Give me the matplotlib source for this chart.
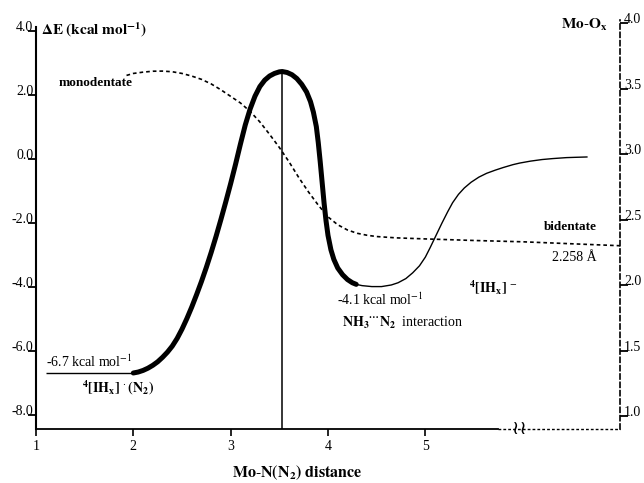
import matplotlib
matplotlib.use("Agg")
import matplotlib.pyplot as plt
import numpy as np

plt.rcParams["font.family"] = ["Liberation Serif", "DejaVu Serif"]
plt.rcParams["mathtext.fontset"] = "stix"
plt.rcParams["axes.unicode_minus"] = False

# energy curve (kcal/mol) vs Mo-N(N2) distance
dist_flat = [1.1, 2.0]
e_flat = [-6.7, -6.7]

# bold part of the path: complex -> TS -> NH3...N2 well
dist_thick = [2.00, 2.05, 2.10, 2.15, 2.20, 2.25, 2.30, 2.35, 2.40, 2.45,
              2.50, 2.55, 2.60, 2.65, 2.70, 2.75, 2.80, 2.85, 2.90, 2.95,
              3.00, 3.05, 3.10, 3.15, 3.20, 3.25, 3.30, 3.35, 3.40, 3.45,
              3.50, 3.53, 3.58, 3.63, 3.68, 3.73, 3.78, 3.82, 3.85, 3.88,
              3.90, 3.92, 3.94, 3.96, 3.98, 4.00, 4.03, 4.06, 4.10, 4.15,
              4.20, 4.25, 4.29]
e_thick = [-6.70, -6.67, -6.62, -6.55, -6.46, -6.35, -6.21, -6.05, -5.86,
           -5.62, -5.33, -5.00, -4.64, -4.25, -3.84, -3.40, -2.93, -2.43,
           -1.90, -1.35, -0.78, -0.18, 0.45, 1.05, 1.55, 1.95, 2.25, 2.45,
           2.58, 2.66, 2.71, 2.72, 2.69, 2.62, 2.50, 2.32, 2.08, 1.78, 1.45,
           1.00, 0.50, -0.10, -0.75, -1.40, -1.95, -2.40, -2.85, -3.15,
           -3.42, -3.63, -3.78, -3.88, -3.93]

dist_tail = [4.29, 4.35, 4.45, 4.55, 4.65, 4.72, 4.80, 4.87, 4.94, 5.00,
             5.05, 5.11, 5.17, 5.23, 5.28, 5.34, 5.40, 5.47, 5.55, 5.63,
             5.72, 5.80, 5.90, 5.97, 6.08, 6.20, 6.31, 6.45, 6.55, 6.66]
e_tail = [-3.93, -3.97, -4.00, -4.00, -3.95, -3.88, -3.75, -3.57, -3.35,
          -3.08, -2.78, -2.40, -2.02, -1.66, -1.38, -1.12, -0.92, -0.74,
          -0.58, -0.46, -0.36, -0.28, -0.19, -0.14, -0.08, -0.03, 0.00,
          0.03, 0.04, 0.05]

# Mo-Ox distance (right axis)
dist_mo = [1.93, 2.0, 2.1, 2.2, 2.3, 2.4, 2.5, 2.6, 2.7, 2.8, 2.9, 3.0,
           3.1, 3.2, 3.3, 3.4, 3.5, 3.6, 3.7, 3.8, 3.9, 4.0, 4.1, 4.2, 4.3,
           4.4, 4.5, 4.7, 5.0, 5.5, 6.0, 6.5, 7.0]
mo_ox = [3.600, 3.615, 3.625, 3.632, 3.633, 3.628, 3.615, 3.595, 3.570,
         3.535, 3.490, 3.440, 3.390, 3.325, 3.245, 3.150, 3.050, 2.940,
         2.820, 2.710, 2.610, 2.520, 2.460, 2.420, 2.395, 2.380, 2.370,
         2.360, 2.352, 2.340, 2.330, 2.315, 2.300]

x_ticks = [1, 2, 3, 4, 5]
e_ticks = [-8.0, -6.0, -4.0, -2.0, 0.0, 2.0, 4.0]
mo_ticks = [1.0, 1.5, 2.0, 2.5, 3.0, 3.5, 4.0]

E_LO, E_HI = -8.45, 4.33
M_LO, M_HI = 0.901, 4.023
X_SOLID_END = 5.75

fig = plt.figure(figsize=(6.44, 4.83), dpi=100)
ax = fig.add_axes([36 / 644, 54 / 483, 584 / 644, 409 / 483])
ax2 = ax.twinx()

ax.set_xlim(1, 7)
ax.set_ylim(E_LO, E_HI)
ax2.set_ylim(M_LO, M_HI)

# curves
ax.plot(dist_flat, e_flat, color="black", lw=1.0, solid_capstyle="butt")
ax.plot(dist_thick, e_thick, color="black", lw=3.6, solid_capstyle="round",
        solid_joinstyle="round")
ax.plot(dist_tail, e_tail, color="black", lw=1.0, solid_joinstyle="round")
i_ts = int(np.argmax(e_thick))
ax.vlines(dist_thick[i_ts], E_LO, e_thick[i_ts], color="black", lw=1.1)
ax2.plot(dist_mo, mo_ox, color="black", lw=1.2, ls=(0, (2.2, 1.8)))

# spines
for a in (ax, ax2):
    a.spines["top"].set_visible(False)
ax.spines["right"].set_visible(False)
ax2.spines["left"].set_visible(False)
ax2.spines["bottom"].set_visible(False)
ax.spines["left"].set_linewidth(1.5)
ax.spines["left"].set_bounds(E_LO, 4.1)
ax.spines["bottom"].set_linewidth(1.3)
ax.spines["bottom"].set_bounds(1, X_SOLID_END)
ax2.spines["right"].set_linewidth(1.2)
ax2.spines["right"].set_linestyle((0, (3, 2)))
ax.plot([X_SOLID_END, 7], [E_LO, E_LO], color="black", lw=1.0,
        ls=(0, (2, 1.5)), clip_on=False)
ax.text(5.97, E_LO, "\u2240\u2240", ha="center", va="center", fontsize=14,
        family="DejaVu Sans")

# ticks
ax.set_xticks(x_ticks)
ax.set_xticklabels([str(v) for v in x_ticks])
ax.tick_params(axis="x", direction="out", length=5, width=1.2, pad=3,
               labelsize=10)
ax.set_yticks(e_ticks)
ax.set_yticklabels([f"{v:.1f}" for v in e_ticks])
ax.tick_params(axis="y", direction="out", length=6, width=1.3, pad=-4,
               labelsize=10)
for lab in ax.get_yticklabels():
    lab.set_va("baseline")
ax2.set_yticks(mo_ticks)
ax2.set_yticklabels([f"{v:.1f}" for v in mo_ticks])
ax2.tick_params(axis="y", direction="out", length=6, width=1.3, pad=-3,
                labelsize=10)
for lab in ax2.get_yticklabels():
    lab.set_va("baseline")

# labels
ax.text(1.05, 4.02, r"$\mathbf{\Delta E\ (kcal\ mol^{-1})}$", ha="left",
        va="center", fontsize=11)
ax.text(6.87, 4.18, r"$\mathbf{Mo\text{-}O_x}$", ha="right", va="center",
        fontsize=11)
ax.text(1.23, 2.36, "monodentate", ha="left", va="center", fontsize=9.5,
        fontweight="bold")
ax.text(6.22, -2.14, "bidentate", ha="left", va="center", fontsize=9.5,
        fontweight="bold")
ax.text(6.30, -3.1, "2.258 Å", ha="left", va="center", fontsize=10)
ax.text(1.10, -6.36, r"-6.7 kcal mol$^{-1}$", ha="left", va="center",
        fontsize=10)
ax.text(1.47, -7.17, r"$\mathbf{{}^4[IH_x]}\ ^{\cdot}\,\mathbf{(N_2)}$",
        ha="left", va="center", fontsize=10)
ax.text(4.09, -4.42, r"-4.1 kcal mol$^{-1}$", ha="left", va="center",
        fontsize=10)
ax.text(4.14, -5.14, r"$\mathbf{NH_3{}^{\cdots}N_2}$  interaction",
        ha="left", va="center", fontsize=10)
ax.text(5.45, -4.04, r"$\mathbf{{}^4[IH_x]}\ ^{-}$", ha="left",
        va="center", fontsize=10)
fig.text(232 / 644, 1 - 473 / 483, r"$\mathbf{Mo\text{-}N(N_2)\ distance}$",
         ha="left", va="center", fontsize=11.5)

fig.savefig("out.png", dpi=100)
